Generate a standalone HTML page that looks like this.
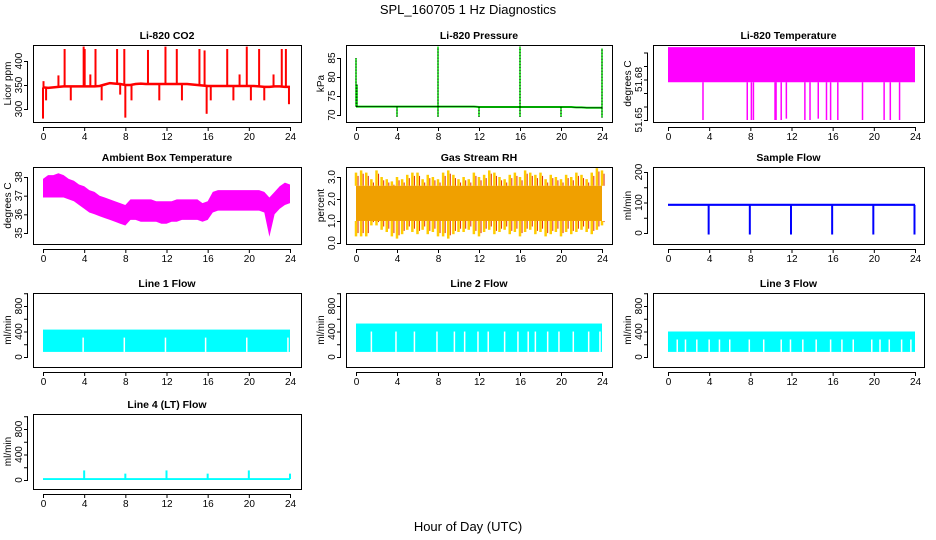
<!DOCTYPE html>
<html><head><meta charset="utf-8">
<style>
html,body{margin:0;padding:0;background:#fff;}
svg{display:block;font-family:"Liberation Sans",Arial,sans-serif;}
</style></head>
<body>
<svg id="chart" width="936" height="540" viewBox="0 0 936 540" xmlns="http://www.w3.org/2000/svg">
<text x="468" y="14" text-anchor="middle" font-size="13">SPL_160705  1 Hz Diagnostics</text>
<text x="468" y="531" text-anchor="middle" font-size="13">Hour of Day (UTC)</text>
</svg>
<script>
const hours = [0,0.5,1,1.5,2,2.5,3,3.5,4,4.5,5,5.5,6,6.5,7,7.5,8,8.5,9,9.5,10,10.5,11,11.5,12,12.5,13,13.5,14,14.5,15,15.5,16,16.5,17,17.5,18,18.5,19,19.5,20,20.5,21,21.5,22,22.5,23,23.5,24];
const xTicks = [0,4,8,12,16,20,24];
// CO2
const co2Base = [345,344,345,346,347,347,347,347,347,347,347,348,351,354,353,352,350,350,352,353,352,352,352,352,352,352,352,352,352,351,350,349,348,348,348,348,348,348,348,348,348,348,347,346,346,347,347,346,346];
const co2SpikeT = [0,0.05,0.3,1.5,2.1,2.7,3.95,4.05,4.6,5.1,5.7,7.2,7.5,7.9,8.0,8.6,10.2,11.3,11.9,13.0,13.5,15.2,15.7,15.9,16.3,17.9,18.5,19.1,19.8,20.2,21.0,21.5,22.4,23.2,23.6,23.9];
const co2SpikeV = [280,358,318,370,425,318,430,425,372,425,318,425,330,425,282,318,423,318,430,425,318,425,422,290,318,425,318,372,430,318,425,318,372,425,425,310];
// Pressure
const presBase = [72.2,72.2,72.2,72.2,72.2,72.2,72.2,72.2,72.2,72.2,72.2,72.2,72.2,72.2,72.2,72.2,72.2,72.2,72.2,72.2,72.2,72.2,72.2,72.2,72.1,72.1,72.1,72.1,72.1,72.1,72.1,72.1,72.1,72.1,72.1,72.1,72.1,72.1,72.1,72.1,72.1,72.1,72.1,72.0,72.0,71.9,71.9,71.9,71.9];
const presSpikeT = [0,0.1,4,8,8,12,16,16,20,24,24];
const presSpikeV = [85,78,69.5,88,69.5,69.5,88,69.5,69.5,87.5,69.3];
// Li-820 temperature
const licTempHi = 51.704, licTempLo = 51.678;
const licDropT = [3.4,7.7,8.1,8.3,10.4,10.5,11,11.5,13.3,13.8,14.6,15.4,15.8,16.5,18.9,21,21.6,22.5];
const licDropV = [51.65,51.65,51.65,51.65,51.65,51.65,51.65,51.651,51.65,51.65,51.651,51.65,51.65,51.65,51.65,51.65,51.65,51.65];
// Ambient box temperature
const ambHi = [37.9,38.1,38.1,38.2,38.1,37.9,37.8,37.6,37.5,37.3,37.2,37.0,36.9,36.8,36.7,36.6,36.5,36.8,36.8,36.8,36.8,36.8,36.7,36.7,36.7,36.7,36.8,36.8,36.8,36.8,36.8,36.6,36.7,37.2,37.3,37.3,37.3,37.3,37.3,37.3,37.3,37.3,37.3,37.2,36.9,37.2,37.5,37.7,37.6];
const ambLo = [36.9,36.9,36.9,36.9,36.9,36.8,36.7,36.5,36.3,36.1,36.0,35.9,35.8,35.7,35.6,35.5,35.4,35.7,35.7,35.6,35.6,35.6,35.6,35.5,35.5,35.6,35.6,35.7,35.7,35.7,35.7,35.6,35.7,36.1,36.2,36.2,36.2,36.2,36.2,36.2,36.2,36.2,36.2,36.1,34.8,36.0,36.3,36.5,36.6];
// Gas stream RH
const rhHi = [3.2,3.3,3.2,2.9,3.3,3.0,2.9,2.8,3.0,2.9,3.1,3.2,3.2,2.9,3.1,3.0,2.9,3.2,3.3,3.1,2.9,3.0,2.9,3.2,3.0,3.1,3.3,3.2,3.0,2.9,3.1,3.2,3.0,3.3,3.2,3.1,3.2,2.9,3.1,3.0,2.9,3.1,3.0,3.2,3.1,2.9,3.2,3.4,3.3];
const rhLo = [0.3,0.3,0.3,0.8,0.8,0.6,0.5,0.3,0.2,0.4,0.6,0.5,0.4,0.6,0.4,0.5,0.3,0.3,0.2,0.4,0.5,0.5,0.6,0.4,0.3,0.5,0.6,0.4,0.5,0.6,0.4,0.5,0.3,0.5,0.6,0.4,0.5,0.3,0.4,0.5,0.3,0.5,0.4,0.5,0.6,0.5,0.4,0.6,0.8];
const rhBandHi = 2.6, rhBandLo = 1.0;
// Sample flow
const sampleBase = 92;
const sampleDropT = [4,8,12,16,20,24];
const sampleDropV = [-5,-5,-5,-5,-5,-5];
// Line flows
const flow1Hi = 430, flow1Lo = 80;
const flow1Gaps = [3.9,7.9,11.9,15.8,19.8,23.8];
const flow2Hi = 525, flow2Lo = 80;
const flow2Gaps = [1.5,3.9,5.7,7.9,9.6,10.6,11.9,12.9,14.5,15.8,16.8,17.5,18.7,19.8,21.2,22.7,23.8];
const flow3Hi = 400, flow3Lo = 80;
const flow3Gaps = [0.9,1.7,2.8,4.0,5.0,6.0,7.9,9.3,11.0,11.9,13.1,14.4,15.8,16.9,18.0,19.8,20.6,21.5,22.7,23.6];
const flow4Base = 15;
const flow4SpikeT = [4,8,12,16,20,24];
const flow4SpikeV = [150,100,150,100,150,100];

const NS = "http://www.w3.org/2000/svg";
const svg = document.getElementById('chart');
function mk(tag, attrs, parent){
  const e = document.createElementNS(NS, tag);
  for (const k in attrs) e.setAttribute(k, attrs[k]);
  (parent||svg).appendChild(e);
  return e;
}
const cols = [{bx:33,x0:43,x24:290,br:301},{bx:346,x0:356,x24:602,br:612},{bx:653,x0:668,x24:915,br:924}];
const rows = [{t:45,b:122},{t:167,b:244},{t:293,b:367},{t:414,b:489}];

function panel(name, c, r, title, ylab, yA, yB, ticks, labels){
  const col = cols[c], row = rows[r];
  const g = mk('g', {});
  
  
  const X = h => col.x0 + h/24*(col.x24-col.x0);
  const Y = v => yA.py + (v - yA.v)*(yB.py - yA.py)/(yB.v - yA.v);
  const t = mk('text', {x:(col.bx+col.br)/2, y:row.t-6, 'text-anchor':'middle', 'font-size':10.5, 'font-weight':'bold'}, g);
  t.textContent = title;
  
  
  const yl = mk('text', {transform:`translate(${col.bx-22},${(row.t+row.b)/2}) rotate(-90)`, 'text-anchor':'middle', 'font-size':10}, g);
  yl.textContent = ylab;
  
  
  const data = mk('g', {}, g);
  
  
  const ax = mk('g', {stroke:'#000', 'stroke-width':1, fill:'none'}, g);
  
  
  mk('rect', {x:col.bx+0.5, y:row.t+0.5, width:col.br-col.bx, height:row.b-row.t}, ax);
  mk('line', {x1:X(0), x2:X(24), y1:row.b+5.5, y2:row.b+5.5}, ax);
  xTicks.forEach(h=>{
    mk('line', {x1:X(h)+0.5, x2:X(h)+0.5, y1:row.b+5, y2:row.b+9}, ax);
    const tx = mk('text', {x:X(h)+0.5, y:row.b+18, 'text-anchor':'middle', 'font-size':10, fill:'#000', stroke:'none'}, g);
    tx.textContent = h;
    
    
  });
  const yt = ticks.filter(v=>Y(v)>=row.t-1 && Y(v)<=row.b+1);
  mk('line', {x1:col.bx-5.5, x2:col.bx-5.5, y1:Y(yt[0]), y2:Y(yt[yt.length-1])}, ax);
  ticks.forEach((v,i)=>{
    const py = Y(v);
    if (py < row.t-1 || py > row.b+1) return;
    mk('line', {x1:col.bx-9, x2:col.bx-5, y1:py+0.5, y2:py+0.5}, ax);
    if (labels[i] !== '') {
      const tl = mk('text', {transform:`translate(${col.bx-11},${py}) rotate(-90)`, 'text-anchor':'middle', 'font-size':10}, g);
      tl.textContent = labels[i];
      
      
    }
  });
  return {X, Y, g:data, row, col};
}
function vline(p, h, v1, v2, color, w){
  const l = mk('line', {x1:p.X(h), x2:p.X(h), y1:p.Y(v1), y2:p.Y(v2), stroke:color, 'stroke-width':w||1.5}, p.g);
  
  
}
function pathLine(p, xs, ys, color, w){
  const d = xs.map((h,i)=>(i?'L':'M')+p.X(h).toFixed(1)+','+p.Y(ys[i]).toFixed(1)).join(' ');
  const e = mk('path', {d, stroke:color, 'stroke-width':w||2, fill:'none'}, p.g);
  
  
}
function band(p, xs, hi, lo, color){
  const up = xs.map((h,i)=>p.X(h).toFixed(1)+','+p.Y(hi[i]).toFixed(1));
  const dn = xs.map((h,i)=>p.X(h).toFixed(1)+','+p.Y(lo[i]).toFixed(1)).reverse();
  const e = mk('polygon', {points:up.concat(dn).join(' '), fill:color}, p.g);
  
  
}
function flowBand(p, hi, lo, gaps, color){
  const r = mk('rect', {x:p.X(0), y:p.Y(hi), width:p.X(24)-p.X(0), height:p.Y(lo)-p.Y(hi), fill:color}, p.g);
  
  
  gaps.forEach(h=>{
    const l = mk('line', {x1:p.X(h), x2:p.X(h), y1:p.Y(hi)+8, y2:p.Y(lo), stroke:'#fff', 'stroke-width':1.5}, p.g);
    
    
  });
}

let p = panel('co2', 0, 0, 'Li-820 CO2', 'Licor ppm', {v:300,py:109},{v:400,py:61}, [300,350,400], ['300','350','400']);
co2SpikeT.forEach((h,i)=>{ const bi = Math.round(h*2); vline(p, h, co2Base[bi], co2SpikeV[i], '#ff0000', 2); });
pathLine(p, hours, co2Base, '#ff0000', 2.5);

p = panel('pressure', 1, 0, 'Li-820 Pressure', 'kPa', {v:70,py:115},{v:85,py:58}, [70,75,80,85], ['70','75','80','85']);
pathLine(p, hours, presBase, '#00dd00', 2);
presSpikeT.forEach((h,i)=>vline(p, h, presBase[Math.round(h*2)], presSpikeV[i], '#00dd00', 1.5));
presSpikeT.forEach((h,i)=>{ const l = mk('line',{x1:p.X(h),x2:p.X(h),y1:p.Y(presBase[Math.round(h*2)]),y2:p.Y(presSpikeV[i]),stroke:'#000','stroke-width':1,'stroke-dasharray':'1,2'},p.g);   });
pathLine(p, hours, presBase, '#000', 0.6);

p = panel('licor-temp', 2, 0, 'Li-820 Temperature', 'degrees C', {v:51.65,py:120},{v:51.68,py:79.5}, [51.65,51.66,51.67,51.68,51.69,51.70], ['51.65','','','51.68','','']);
band(p, [0,24], [licTempHi,licTempHi], [licTempLo,licTempLo], '#ff00ff');
licDropT.forEach((h,i)=>vline(p, h, licTempLo, licDropV[i], '#ff00ff', 1.5));

p = panel('ambient-temp', 0, 1, 'Ambient Box Temperature', 'degrees C', {v:35,py:233},{v:38,py:177}, [35,36,37,38], ['35','36','37','38']);
band(p, hours, ambHi, ambLo, '#ff00ff');

p = panel('rh', 1, 1, 'Gas Stream RH', 'percent', {v:0,py:243},{v:3,py:177}, [0,1,2,3], ['0.0','1.0','2.0','3.0']);
hours.forEach((h,i)=>{ vline(p, h, rhBandHi, rhHi[i], '#ffcc00', 2.5); vline(p, h, rhBandLo, rhLo[i], '#ffcc00', 2.5); vline(p, h+0.2, rhBandHi, rhHi[i]-0.15, '#e03000', 1); vline(p, h+0.2, rhBandLo, rhLo[i]+0.15, '#e03000', 1); });
band(p, [0,24], [rhBandHi,rhBandHi], [rhBandLo,rhBandLo], '#f0a000');

p = panel('sample-flow', 2, 1, 'Sample Flow', 'ml/min', {v:0,py:233},{v:200,py:172}, [0,50,100,150,200], ['0','','100','','200']);
band(p, [0,24], [sampleBase+4,sampleBase+4], [sampleBase-3,sampleBase-3], '#0000ff');
sampleDropT.forEach((h,i)=>vline(p, h-0.05, sampleBase, sampleDropV[i], '#0000ff', 2));

const fTicks = [0,200,400,600,800,1000], fLabels = ['0','','400','','800',''];
p = panel('line1-flow', 0, 2, 'Line 1 Flow', 'ml/min', {v:0,py:357},{v:800,py:306}, fTicks, fLabels);
flowBand(p, flow1Hi, flow1Lo, flow1Gaps, '#00ffff');
p = panel('line2-flow', 1, 2, 'Line 2 Flow', 'ml/min', {v:0,py:357},{v:800,py:306}, fTicks, fLabels);
flowBand(p, flow2Hi, flow2Lo, flow2Gaps, '#00ffff');
p = panel('line3-flow', 2, 2, 'Line 3 Flow', 'ml/min', {v:0,py:357},{v:800,py:306}, fTicks, fLabels);
flowBand(p, flow3Hi, flow3Lo, flow3Gaps, '#00ffff');
p = panel('line4-flow', 0, 3, 'Line 4 (LT) Flow', 'ml/min', {v:0,py:480},{v:800,py:429}, fTicks, fLabels);
band(p, [0,24], [flow4Base+15,flow4Base+15], [flow4Base-15,flow4Base-15], '#00ffff');
flow4SpikeT.forEach((h,i)=>vline(p, h, flow4Base, flow4SpikeV[i], '#00ffff', 2));
</script>
</body></html>
